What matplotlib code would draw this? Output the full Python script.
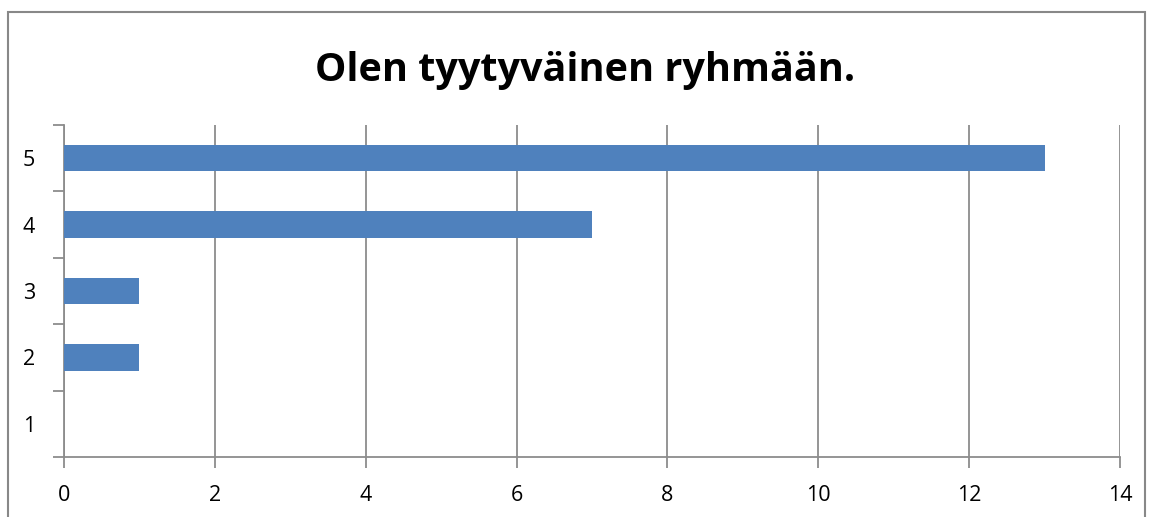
import matplotlib.pyplot as plt
from matplotlib.patches import Rectangle

# Survey answers (scale 1-5) and how many chose each
categories = ['1', '2', '3', '4', '5']
counts = [0, 1, 1, 7, 13]
x_ticks = [0, 2, 4, 6, 8, 10, 12, 14]

title = 'Olen tyytyväinen ryhmään.'
bar_color = '#4F81BD'
grid_color = '#8C8C8C'

plt.rcParams['font.family'] = ['Open Sans', 'DejaVu Sans']

fig = plt.figure(figsize=(11.52, 5.17), dpi=100)
ax = fig.add_axes([64 / 1152, 1 - 457 / 517, (1120 - 64) / 1152, (457 - 125) / 517])

# outer chart border, as in the spreadsheet export
fig.patches.append(Rectangle((8 / 1152, -0.05), (1145 - 8) / 1152, 1.05 - 12 / 517,
                             transform=fig.transFigure, fill=False,
                             edgecolor='#888888', linewidth=1.5))

ypos = range(len(categories))
ax.barh(ypos, counts, height=0.4, color=bar_color, zorder=3)

ax.set_xlim(0, 14)
ax.set_ylim(-0.5, len(categories) - 0.5)
ax.set_xticks(x_ticks)
ax.set_xticklabels([str(t) for t in x_ticks], fontsize=15.5)
ax.set_yticks(list(ypos))
ax.set_yticklabels(categories, fontsize=15.5)
ax.set_yticks([i - 0.5 for i in range(len(categories) + 1)], minor=True)

ax.xaxis.grid(True, color=grid_color, linewidth=1.3, zorder=0)
ax.tick_params(axis='y', which='major', length=0, pad=21)
ax.tick_params(axis='y', which='minor', length=8, color=grid_color, width=1.3)
ax.tick_params(axis='x', length=8, color=grid_color, width=1.3, pad=12)

for s in ['top', 'right']:
    ax.spines[s].set_visible(False)
for s in ['left', 'bottom']:
    ax.spines[s].set_color(grid_color)
    ax.spines[s].set_linewidth(1.3)

fig.text(585 / 1152, 1 - 70 / 517, title, ha='center', va='center',
         fontsize=28.5, fontweight='bold')

fig.savefig('out.png', dpi=100)
